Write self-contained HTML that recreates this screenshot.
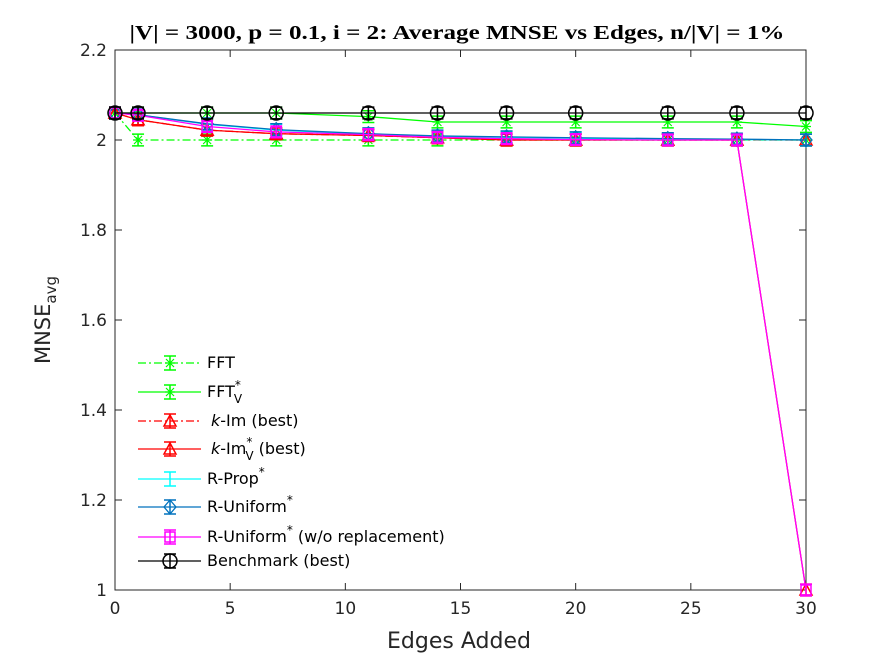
<!DOCTYPE html>
<html><head><meta charset="utf-8"><style>
body{margin:0;background:#fff}
svg text{font-family:"DejaVu Sans","Liberation Sans",sans-serif}
</style></head><body>
<svg id="c" width="884" height="663" viewBox="0 0 884 663" xmlns="http://www.w3.org/2000/svg">
<rect width="884" height="663" fill="#fff"/>
<text x="457" y="39" text-anchor="middle" font-size="20" font-weight="bold" textLength="655" lengthAdjust="spacingAndGlyphs" style="font-family:'Liberation Serif',serif">|V| = 3000, p = 0.1, i = 2: Average MNSE vs Edges, n/|V| = 1%</text>
<g id="plot"></g>
<text x="459" y="648" text-anchor="middle" font-size="22" fill="#262626">Edges Added</text>
<text transform="translate(50,320) rotate(-90)" text-anchor="middle" font-size="21" fill="#262626">MNSE<tspan font-size="15" dy="6">avg</tspan></text>
<g id="legend"></g>
</svg>
<script>
const xVals=[0,1,4,7,11,14,17,20,24,27,30];
const xTicks=[0,5,10,15,20,25,30];
const yTicks=[1,1.2,1.4,1.6,1.8,2,2.2];
const yTickLabels=["1","1.2","1.4","1.6","1.8","2","2.2"];
const fft=[2.06,2.0,2.0,2.0,2.0,2.0,2.0,2.0,2.0,2.0,2.0];
const fftV=[2.06,2.06,2.06,2.06,2.052,2.04,2.04,2.04,2.04,2.04,2.03];
const kim=[2.06,2.045,2.022,2.014,2.01,2.005,2.0,2.0,2.0,2.0,2.0];
const kimV=[2.06,2.045,2.022,2.014,2.01,2.005,2.0,2.0,2.0,2.0,1.0];
const rprop=[2.06,2.056,2.035,2.022,2.013,2.008,2.006,2.004,2.002,2.001,2.0];
const runif=[2.06,2.056,2.036,2.023,2.014,2.009,2.007,2.005,2.003,2.002,2.0];
const runifWo=[2.06,2.055,2.03,2.018,2.012,2.006,2.003,2.001,2.0,2.0,1.0];
const bench=[2.06,2.06,2.06,2.06,2.06,2.06,2.06,2.06,2.06,2.06,2.06];
const errHalf=0.013;
const X0=115,X1=806,Y0=590,Y1=50;
const sx=v=>X0+(v-0)/(30-0)*(X1-X0);
const sy=v=>Y0-(v-1)/(2.2-1)*(Y0-Y1);
const NS="http://www.w3.org/2000/svg";
function mk(p,tag,a){const e=document.createElementNS(NS,tag);for(const k in a)e.setAttribute(k,a[k]);p.appendChild(e);return e;}
const plot=document.getElementById('plot');
const frame=mk(plot,'rect',{x:X0,y:Y1,width:X1-X0,height:Y0-Y1,fill:'none',stroke:'#262626','stroke-width':1});


xTicks.forEach(t=>{
 mk(plot,'line',{x1:sx(t),x2:sx(t),y1:Y0,y2:Y0-7,stroke:'#262626'});
 mk(plot,'line',{x1:sx(t),x2:sx(t),y1:Y1,y2:Y1+7,stroke:'#262626'});
 const tx=mk(plot,'text',{x:sx(t),y:Y0+24,'text-anchor':'middle','font-size':17,fill:'#262626'});tx.textContent=t;
 
 
});
yTicks.forEach((t,i)=>{
 mk(plot,'line',{x1:X0,x2:X0+7,y1:sy(t),y2:sy(t),stroke:'#262626'});
 mk(plot,'line',{x1:X1,x2:X1-7,y1:sy(t),y2:sy(t),stroke:'#262626'});
 const tx=mk(plot,'text',{x:X0-8,y:sy(t)+6,'text-anchor':'end','font-size':17,fill:'#262626'});tx.textContent=yTickLabels[i];
 
 
});
function marker(g,m,x,y,c){
 if(m==='star'){mk(g,'path',{d:`M${x-5} ${y}H${x+5}M${x} ${y-5}V${y+5}M${x-4} ${y-4}L${x+4} ${y+4}M${x-4} ${y+4}L${x+4} ${y-4}`,stroke:c,fill:'none','stroke-width':1.2});}
 else if(m==='tri'){mk(g,'path',{d:`M${x} ${y-6}L${x+6} ${y+5}H${x-6}Z`,stroke:c,fill:'none','stroke-width':1.5});}
 else if(m==='dia'){mk(g,'path',{d:`M${x} ${y-7}L${x+6} ${y}L${x} ${y+7}L${x-6} ${y}Z`,stroke:c,fill:'none','stroke-width':1.3});}
 else if(m==='sq'){mk(g,'rect',{x:x-5,y:y-5,width:10,height:10,stroke:c,fill:'none','stroke-width':1.5});}
 else if(m==='circ'){mk(g,'circle',{cx:x,cy:y,r:7,stroke:c,fill:'none','stroke-width':1.5});}
}
function errbar(g,x,y,h,c){
 mk(g,'path',{d:`M${x} ${y-h}V${y+h}M${x-6} ${y-h}H${x+6}M${x-6} ${y+h}H${x+6}`,stroke:c,fill:'none','stroke-width':1.5});
}
const series=[
 {name:'fft',d:fft,c:'#00ff00',dash:'8 3 2 3',m:'star'},
 {name:'fft-v',d:fftV,c:'#00ff00',dash:'',m:'star'},
 {name:'k-im',d:kim,c:'#ff0000',dash:'8 3 2 3',m:'tri'},
 {name:'k-im-v',d:kimV,c:'#ff0000',dash:'',m:'tri'},
 {name:'r-prop',d:rprop,c:'#00ffff',dash:'',m:null},
 {name:'r-uniform',d:runif,c:'#0072bd',dash:'',m:'dia'},
 {name:'r-uniform-wo',d:runifWo,c:'#ff00ff',dash:'',m:'sq'},
 {name:'benchmark',d:bench,c:'#000000',dash:'',m:'circ'}
];
series.forEach(s=>{
 const g=mk(plot,'g',{});
 
 
 const pts=s.d.map((v,i)=>sx(xVals[i])+','+sy(v)).join(' ');
 const a={points:pts,fill:'none',stroke:s.c,'stroke-width':1.3};if(s.dash)a['stroke-dasharray']=s.dash;
 mk(g,'polyline',a);
 const h=(errHalf*(Y0-Y1)/1.2);
 s.d.forEach((v,i)=>{errbar(g,sx(xVals[i]),sy(v),h,s.c);if(s.m)marker(g,s.m,sx(xVals[i]),sy(v),s.c);});
});
const leg=document.getElementById('legend');
const labels=[
 ['FFT',''],['FFT','V*'],['k-Im (best)','k'],['k-Im','kV*'],['R-Prop','*'],['R-Uniform','*'],['R-Uniform','*w'],['Benchmark (best)','']
];
const rows=[363,392,421,449,479,507,537,561];
series.forEach((s,i)=>{
 const g=mk(leg,'g',{});
 
 
 const y=rows[i];
 const a={x1:138,x2:201,y1:y,y2:y,stroke:s.c,'stroke-width':1.3};if(s.dash)a['stroke-dasharray']=s.dash;
 mk(g,'line',a);
 errbar(g,170,y,7,s.c);if(s.m)marker(g,s.m,170,y,s.c);
 const t=mk(g,'text',{x:207,y:y+5,'font-size':16,fill:'#000'});
 const [txt,f]=labels[i];
 if(f.includes('k')){t.innerHTML='<tspan font-style="italic" dx="4">k</tspan>'+txt.slice(1);}
 else t.textContent=txt;
 if(f.includes('V')){t.innerHTML+='<tspan font-size="12" dy="-8">*</tspan><tspan font-size="12" dx="-7" dy="14">V</tspan>';if(f.includes('k'))t.innerHTML+='<tspan dy="-6"> (best)</tspan>';}
 else if(f.includes('*')){t.innerHTML+='<tspan font-size="12" dy="-8">*</tspan>';if(f.includes('w'))t.innerHTML+='<tspan dy="8"> (w/o replacement)</tspan>';}
});
</script>
</body></html>
